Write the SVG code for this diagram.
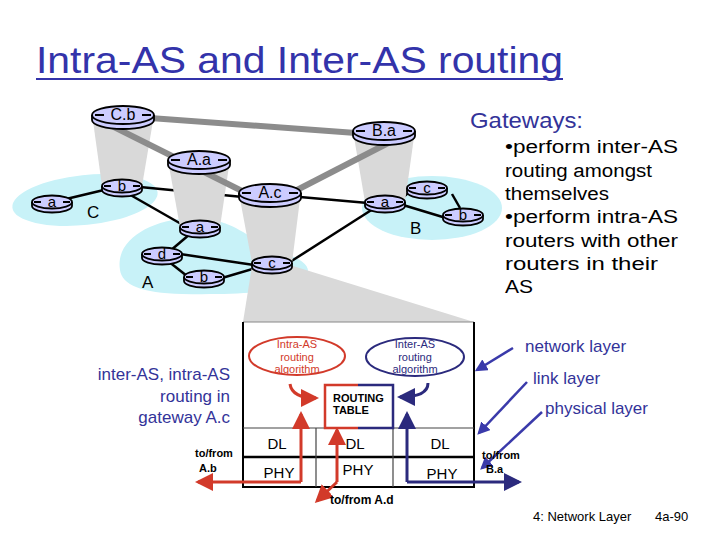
<svg xmlns="http://www.w3.org/2000/svg" xmlns:xlink="http://www.w3.org/1999/xlink" width="720" height="540" viewBox="0 0 720 540">
<defs>
<style>
.reg{fill:#c8f2f8}
.fun{fill:#d9d9d9}
.glink{stroke:#8c8c8c;stroke-width:6;fill:none}
.blink{stroke:#000;stroke-width:2.5;fill:none}
.rbody{fill:#ccccff;stroke:#000;stroke-width:1.8}
.rline{fill:none;stroke:#000;stroke-width:1.8}
.rlab{font-family:"Liberation Sans",Arial,sans-serif;fill:#000;text-anchor:middle}
.big{font-size:16px}
.sm{font-size:15px}
.navy{fill:#333399;font-family:"Liberation Sans",Arial,sans-serif}
.blk{fill:#000;font-family:"Liberation Sans",Arial,sans-serif}
.box{font-family:"Liberation Sans",Arial,sans-serif}
.red{stroke:#d23a2a;fill:none;stroke-width:3}
.nv{stroke:#2b2a7d;fill:none;stroke-width:3}
.ptr{stroke:#3a3aaa;fill:none;stroke-width:2.5}
</style>
<g id="rtL">
<path class="rbody" d="M-31,-1 A31,9 0 0 1 31,-1 L31,4 A31,9 0 0 1 -31,4 Z"/>
<path class="rline" d="M-31,-1 A31,9 0 0 0 31,-1"/>
<path class="rline" d="M-28,-1 H-19 M19,-1 H28"/>
</g>
<g id="rtS">
<path class="rbody" d="M-20,-1 A20,6.5 0 0 1 20,-1 L20,3 A20,6.5 0 0 1 -20,3 Z"/>
<path class="rline" d="M-20,-1 A20,6.5 0 0 0 20,-1"/>
<path class="rline" d="M-18,-1 H-11 M11,-1 H18"/>
</g>
<marker id="mr" markerWidth="6" markerHeight="6" refX="5" refY="3" orient="auto" markerUnits="strokeWidth"><path d="M0,0 L6,3 L0,6 Z" fill="#d23a2a"/></marker>
<marker id="mn" markerWidth="6" markerHeight="6" refX="5" refY="3" orient="auto" markerUnits="strokeWidth"><path d="M0,0 L6,3 L0,6 Z" fill="#2b2a7d"/></marker>
<marker id="mp" markerWidth="5" markerHeight="5" refX="4" refY="2.5" orient="auto" markerUnits="strokeWidth"><path d="M0,0 L5,2.5 L0,5 Z" fill="#3a3aaa"/></marker>
</defs>
<rect width="720" height="540" fill="#fff"/>

<!-- title -->
<text x="36" y="73" font-family="Liberation Sans, Arial, sans-serif" font-size="36" fill="#3333aa" textLength="527" lengthAdjust="spacingAndGlyphs">Intra-AS and Inter-AS routing</text>
<line x1="36" y1="79" x2="563" y2="79" stroke="#3333aa" stroke-width="2"/>

<!-- AS regions -->
<g id="regions">
<ellipse class="reg" cx="85" cy="200" rx="73" ry="25" transform="rotate(-6 85 200)"/>
<path class="reg" d="M120,270 C115,240 150,220 190,218 C232,216 250,240 278,252 C305,258 316,270 302,281 C290,292 240,295 182,294 C142,293 122,285 120,270 Z"/>
<ellipse class="reg" cx="432" cy="208" rx="70" ry="32"/>
</g>

<!-- connectors -->
<g id="connectors">
<g id="intra-links">
<line class="blink" x1="62" y1="200" x2="108" y2="189"/>
<line class="blink" x1="140" y1="187" x2="243" y2="197"/>
<line class="blink" x1="127" y1="193" x2="183" y2="225"/>
<line class="blink" x1="190" y1="234" x2="170" y2="251"/>
<line class="blink" x1="180" y1="254" x2="254" y2="265"/>
<line class="blink" x1="168" y1="261" x2="192" y2="280"/>
<line class="blink" x1="222" y1="278" x2="256" y2="268"/>
<line class="blink" x1="300" y1="197" x2="368" y2="203"/>
<line class="blink" x1="290" y1="262" x2="373" y2="209"/>
<line class="blink" x1="402" y1="198" x2="412" y2="190"/>
<line class="blink" x1="403" y1="205" x2="446" y2="218"/>
<line class="blink" x1="452" y1="194" x2="460" y2="208"/>
</g>
<g id="funnels">
<polygon class="fun" points="93,121 153,121 142,186 102,186"/>
<polygon class="fun" points="169,166 229,166 220,227 180,227"/>
<polygon class="fun" points="240,199 300,199 292,263 252,263"/>
<polygon class="fun" points="354,137 414,137 405,202 365,202"/>
<polygon class="fun" points="252,266 293,266 474,322 243,322"/>
</g>
<g id="inter-links">
<line class="glink" x1="150" y1="118" x2="356" y2="133"/>
<line class="glink" x1="112" y1="126" x2="246" y2="193"/>
<line class="glink" x1="295" y1="191" x2="396" y2="139"/>
</g>
</g>

<!-- routers -->
<g id="router-Cb" transform="translate(123,116)"><use xlink:href="#rtL"/><text class="rlab big" y="4">C.b</text></g>
<g id="router-Aa" transform="translate(199,161)"><use xlink:href="#rtL"/><text class="rlab big" y="4">A.a</text></g>
<g id="router-Ac" transform="translate(270,194)"><use xlink:href="#rtL"/><text class="rlab big" y="4">A.c</text></g>
<g id="router-Ba" transform="translate(384,132)"><use xlink:href="#rtL"/><text class="rlab big" y="4">B.a</text></g>
<g id="router-C-a" transform="translate(52,203)"><use xlink:href="#rtS"/><text class="rlab sm" y="3.5">a</text></g>
<g id="router-C-b" transform="translate(122,187)"><use xlink:href="#rtS"/><text class="rlab sm" y="3.5">b</text></g>
<g id="router-A-a" transform="translate(200,228)"><use xlink:href="#rtS"/><text class="rlab sm" y="3.5">a</text></g>
<g id="router-A-d" transform="translate(162,255)"><use xlink:href="#rtS"/><text class="rlab sm" y="3.5">d</text></g>
<g id="router-A-b" transform="translate(204,278)"><use xlink:href="#rtS"/><text class="rlab sm" y="3.5">b</text></g>
<g id="router-A-c" transform="translate(272,264)"><use xlink:href="#rtS"/><text class="rlab sm" y="3.5">c</text></g>
<g id="router-B-a" transform="translate(385,203)"><use xlink:href="#rtS"/><text class="rlab sm" y="3.5">a</text></g>
<g id="router-B-c" transform="translate(427,189)"><use xlink:href="#rtS"/><text class="rlab sm" y="3.5">c</text></g>
<g id="router-B-b" transform="translate(463,216)"><use xlink:href="#rtS"/><text class="rlab sm" y="3.5">b</text></g>

<!-- AS labels -->
<text class="blk" x="87" y="218" font-size="17">C</text>
<text class="blk" x="142" y="288" font-size="17">A</text>
<text class="blk" x="410" y="234" font-size="17">B</text>

<!-- Gateways text -->
<text class="navy" x="470" y="128" font-size="22" textLength="113" lengthAdjust="spacingAndGlyphs">Gateways:</text>
<g class="blk" font-size="18">
<text x="505" y="153" textLength="173" lengthAdjust="spacingAndGlyphs">•perform inter-AS</text>
<text x="505" y="177" textLength="147" lengthAdjust="spacingAndGlyphs">routing amongst</text>
<text x="505" y="200" textLength="104" lengthAdjust="spacingAndGlyphs">themselves</text>
<text x="505" y="223" textLength="173" lengthAdjust="spacingAndGlyphs">•perform intra-AS</text>
<text x="505" y="247" textLength="173" lengthAdjust="spacingAndGlyphs">routers with other</text>
<text x="505" y="270" textLength="153" lengthAdjust="spacingAndGlyphs">routers in their</text>
<text x="505" y="293" textLength="28" lengthAdjust="spacingAndGlyphs">AS</text>
</g>

<!-- gateway box -->
<g id="gateway-box">
<rect x="243" y="322" width="231" height="165" fill="#fff"/>
<line x1="243" y1="322" x2="474" y2="322" stroke="#888" stroke-width="1"/>
<path d="M243,322 V487 H474 V322" fill="none" stroke="#000" stroke-width="2"/>
<line x1="243" y1="428" x2="474" y2="428" stroke="#444" stroke-width="1.2"/>
<line x1="243" y1="457" x2="474" y2="457" stroke="#000" stroke-width="2.5"/>
<line x1="316" y1="428" x2="316" y2="487" stroke="#444" stroke-width="1.2"/>
<line x1="393" y1="428" x2="393" y2="487" stroke="#444" stroke-width="1.2"/>
<ellipse cx="297" cy="356" rx="48" ry="19" fill="none" stroke="#d23a2a" stroke-width="2"/>
<ellipse cx="415" cy="357" rx="49" ry="19" fill="none" stroke="#2b2a7d" stroke-width="2"/>
<g class="box" font-size="11" text-anchor="middle">
<text x="297" y="348" fill="#d23a2a">Intra-AS</text>
<text x="297" y="361" fill="#d23a2a">routing</text>
<text x="297" y="373" fill="#d23a2a">algorithm</text>
<text x="415" y="348" fill="#2b2a7d">Inter-AS</text>
<text x="415" y="361" fill="#2b2a7d">routing</text>
<text x="415" y="373" fill="#2b2a7d">algorithm</text>
</g>
<path d="M358,385 H325 V428 H358" fill="none" stroke="#d23a2a" stroke-width="2.5"/>
<path d="M358,385 H393 V428 H358" fill="none" stroke="#2b2a7d" stroke-width="2.5"/>
<text class="box" x="333" y="402" font-size="11" font-weight="bold">ROUTING</text>
<text class="box" x="333" y="414" font-size="11" font-weight="bold">TABLE</text>
<g class="box" font-size="15" text-anchor="middle" fill="#000">
<text x="277" y="449">DL</text>
<text x="355" y="449">DL</text>
<text x="440" y="449">DL</text>
<text x="279" y="478">PHY</text>
<text x="358" y="475">PHY</text>
<text x="442" y="479">PHY</text>
</g>
</g>

<!-- box arrows -->
<g id="box-arrows">
<path class="red" d="M290,384 Q292,398 316,398" marker-end="url(#mr)"/>
<path class="nv" d="M428,383 Q428,397 400,397" marker-end="url(#mn)"/>
<path class="red" d="M301,482 V414" marker-end="url(#mr)"/>
<path class="red" d="M301,482 H198" marker-end="url(#mr)"/>
<path class="red" d="M337,482 V430" marker-end="url(#mr)"/>
<path class="red" d="M337,482 L317,501" marker-end="url(#mr)"/>
<path class="nv" d="M407,482 V414" marker-end="url(#mn)"/>
<path class="nv" d="M407,482 H519" marker-end="url(#mn)"/>
<path class="ptr" d="M513,348 L477,370" marker-end="url(#mp)"/>
<path class="ptr" d="M527,382 L479,433" marker-end="url(#mp)"/>
<path class="ptr" d="M542,412 L482,468" marker-end="url(#mp)"/>
</g>

<g class="box" font-size="11" font-weight="bold" fill="#000">
<text x="195" y="457">to/from</text>
<text x="199" y="472">A.b</text>
<text x="482" y="459">to/from</text>
<text x="486" y="473">B.a</text>
<text x="330" y="504" font-size="12">to/from  A.d</text>
</g>

<!-- left caption -->
<g class="navy" font-size="17" text-anchor="end">
<text x="230" y="380">inter-AS, intra-AS</text>
<text x="230" y="402">routing in</text>
<text x="230" y="423">gateway A.c</text>
</g>

<!-- layer labels -->
<g class="navy" font-size="17">
<text x="525" y="352">network layer</text>
<text x="533" y="384">link layer</text>
<text x="545" y="414">physical layer</text>
</g>

<text class="blk" x="533" y="521" font-size="13">4: Network Layer</text>
<text class="blk" x="655" y="521" font-size="13">4a-90</text>
</svg>
